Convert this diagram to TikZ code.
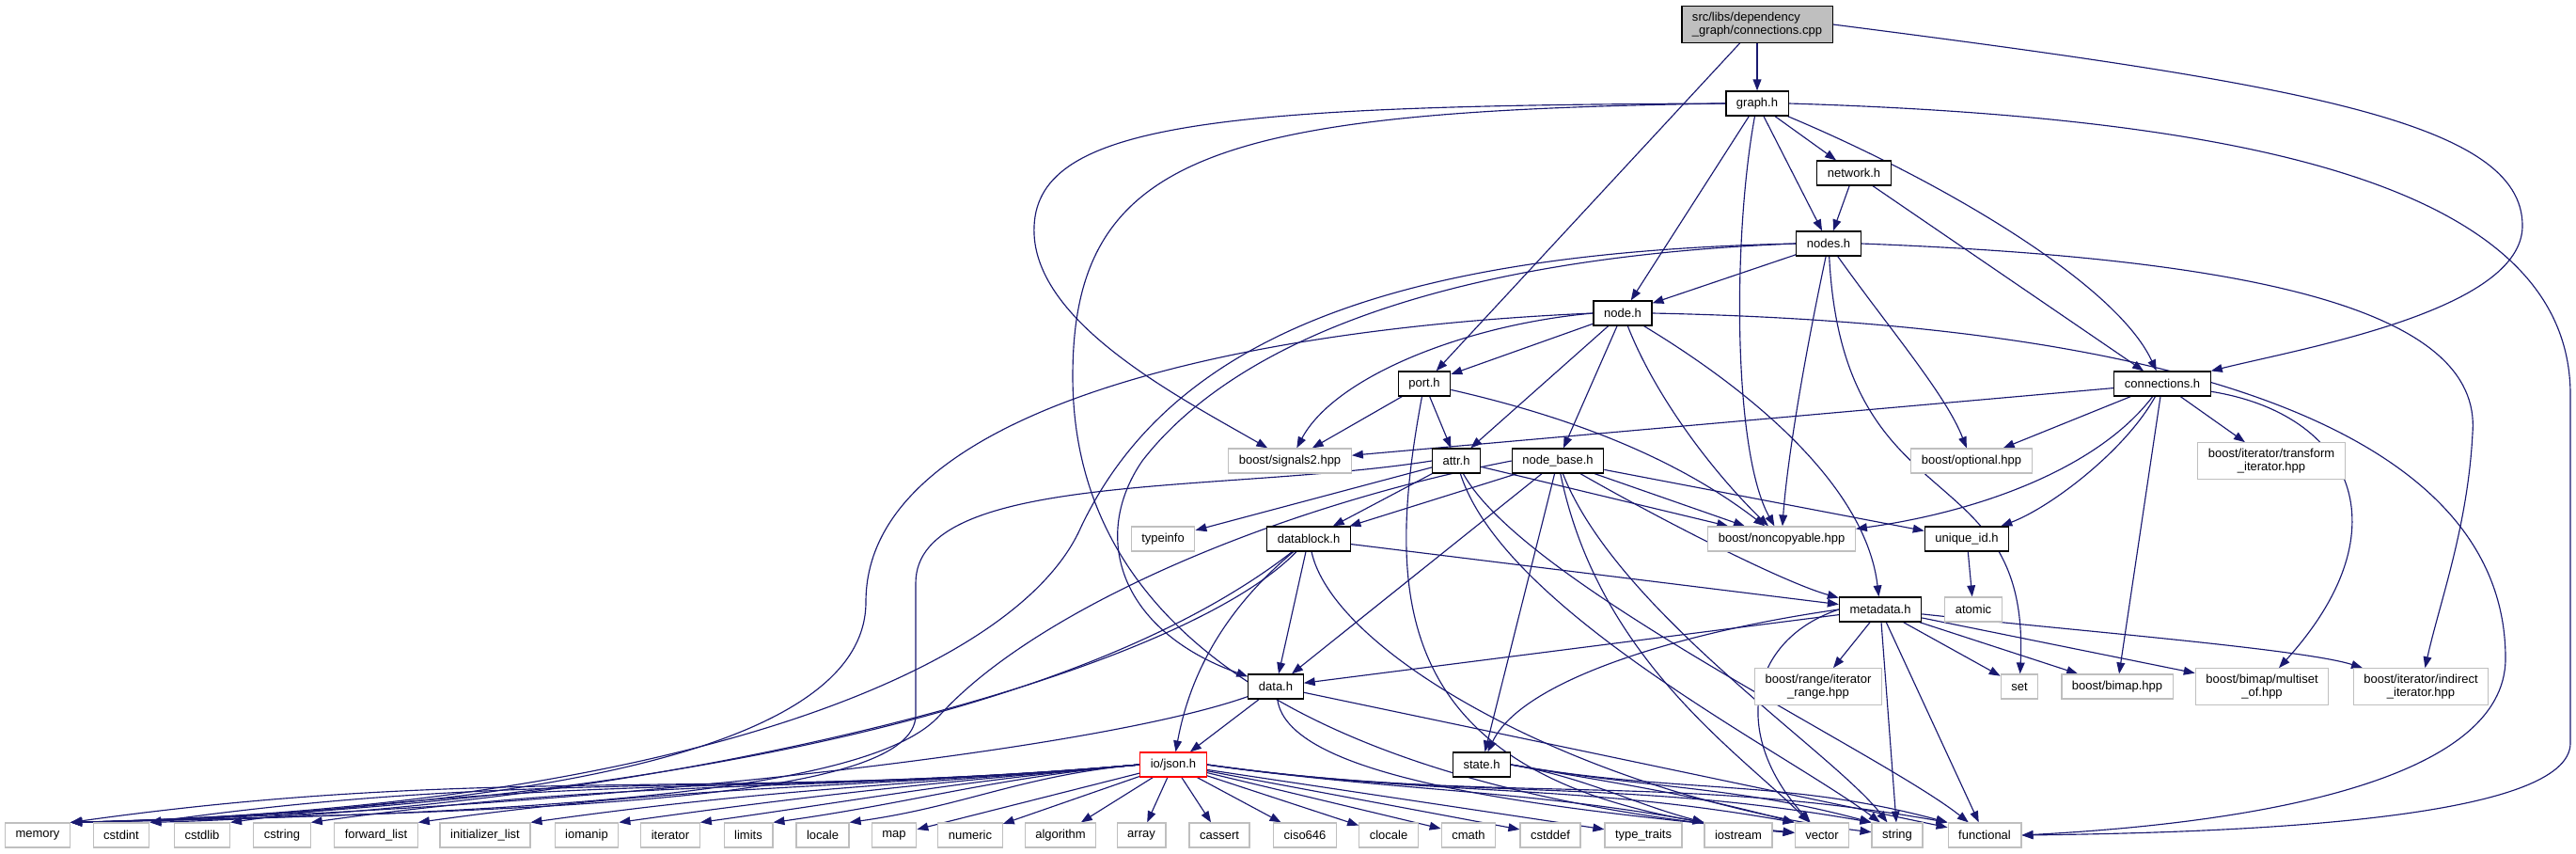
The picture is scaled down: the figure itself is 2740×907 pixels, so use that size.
\documentclass[tikz,border=0pt]{standalone}
\usepackage{fontspec}
\setmainfont{Liberation Sans}
\usepackage{xcolor}
\usepackage{tikz}
\usetikzlibrary{arrows.meta, positioning}
\pgfdeclarelayer{background}
\pgfsetlayers{background,main}
\definecolor{edgeblue}{RGB}{25,25,112}
\definecolor{boxgray}{RGB}{191,191,191}
\newcommand{\gfont}{\fontsize{7.4pt}{8pt}\selectfont}

\begin{document}
\begin{tikzpicture}[
			x=0.02cm, y=0.02cm,
			hdr/.style={rectangle, draw=black, fill=white, line width=0.7pt, inner xsep=6.3pt, inner ysep=3.5pt, minimum height=14.8pt, align=center, font=\gfont},
			syshdr/.style={hdr, draw=boxgray},
			srcfile/.style={hdr, fill=boxgray, align=left},
			badfile/.style={hdr, draw=red},
			dep/.style={draw=edgeblue, line width=0.65pt, -{Triangle[length=6.8pt, width=5pt]}}
			]
			\useasboundingbox (0,0) rectangle (2740,-907);
			
			% --- Project headers (absolute positions, pixel grid) ---
			\node[srcfile] (cpp) at (1869,-26) {src/libs/dependency\\\_graph/connections.cpp};
			\node[hdr] (graph) at (1869,-110) {graph.h};
			\node[hdr] (network) at (1972,-184) {network.h};
			\node[hdr] (nodes) at (1945,-259) {nodes.h};
			\node[hdr] (node) at (1726,-333) {node.h};
			\node[hdr] (port) at (1515,-408) {port.h};
			\node[hdr] (conns) at (2300,-408) {connections.h};
			\node[syshdr] (signals) at (1372,-490) {boost/signals2.hpp};
			\node[hdr] (attr) at (1549,-490) {attr.h};
			\node[hdr] (nbase) at (1657,-490) {node\_base.h};
			\node[syshdr] (optional) at (2097,-490) {boost/optional.hpp};
			\node[syshdr] (transform) at (2416,-490) {boost/iterator/transform\\\_iterator.hpp};
			\node[syshdr] (typeinfo) at (1237,-573) {typeinfo};
			\node[hdr] (dblock) at (1392,-573) {datablock.h};
			\node[syshdr] (noncopy) at (1895,-573) {boost/noncopyable.hpp};
			\node[hdr] (uid) at (2092,-573) {unique\_id.h};
			\node[hdr] (meta) at (2000,-648) {metadata.h};
			\node[syshdr] (atomic) at (2099,-648) {atomic};
			\node[hdr] (data) at (1357,-730) {data.h};
			\node[syshdr] (range) at (1934,-730) {boost/range/iterator\\\_range.hpp};
			\node[syshdr] (set) at (2148,-730) {set};
			\node[syshdr] (bimap) at (2252,-730) {boost/bimap.hpp};
			\node[syshdr] (multiset) at (2406,-730) {boost/bimap/multiset\\\_of.hpp};
			\node[syshdr] (indirect) at (2575,-730) {boost/iterator/indirect\\\_iterator.hpp};
			\node[badfile] (json) at (1248,-813) {io/json.h};
			\node[hdr] (state) at (1576,-813) {state.h};
			
			% --- Standard library row ---
			\node[syshdr] (memory) at (40,-888) {memory};
			\node[syshdr] (cstdint) at (129,-888) {cstdint};
			\node[syshdr] (cstdlib) at (215,-888) {cstdlib};
			\node[syshdr] (cstring) at (300,-888) {cstring};
			\node[syshdr] (fwdlist) at (400,-888) {forward\_list};
			\node[syshdr] (initlist) at (516,-888) {initializer\_list};
			\node[syshdr] (iomanip) at (624,-888) {iomanip};
			\node[syshdr] (iterator) at (713,-888) {iterator};
			\node[syshdr] (limits) at (796,-888) {limits};
			\node[syshdr] (locale) at (875,-888) {locale};
			\node[syshdr] (map) at (951,-888) {map};
			\node[syshdr] (numeric) at (1032,-888) {numeric};
			\node[syshdr] (algorithm) at (1128,-888) {algorithm};
			\node[syshdr] (array) at (1214,-888) {array};
			\node[syshdr] (cassert) at (1297,-888) {cassert};
			\node[syshdr] (ciso) at (1388,-888) {ciso646};
			\node[syshdr] (clocale) at (1477,-888) {clocale};
			\node[syshdr] (cmath) at (1562,-888) {cmath};
			\node[syshdr] (cstddef) at (1649,-888) {cstddef};
			\node[syshdr] (typetraits) at (1748,-888) {type\_traits};
			\node[syshdr] (iostream) at (1849,-888) {iostream};
			\node[syshdr] (vector) at (1938,-888) {vector};
			\node[syshdr] (string) at (2018,-888) {string};
			\node[syshdr] (functional) at (2111,-888) {functional};
			
			\begin{pgfonlayer}{background}
				% --- connections.cpp ---
				\draw[dep] (cpp) -- (graph);
				\draw[dep] (cpp) -- (port);
				\draw[dep] (cpp.east) .. controls (2450,-90) and (2683,-130) .. (2683,-240) .. controls (2683,-330) and (2450,-370) .. (conns.north east);
				
				% --- graph.h ---
				\draw[dep] (graph) -- (network);
				\draw[dep] (graph) -- (nodes);
				\draw[dep] (graph) -- (node);
				\draw[dep] (graph) .. controls (2060,-190) and (2250,-300) .. (conns);
				\draw[dep] (graph) .. controls (1843,-250) and (1843,-480) .. (noncopy);
				\draw[dep] (graph.west) .. controls (1300,-112) and (1105,-130) .. (1100,-240) .. controls (1095,-340) and (1250,-420) .. (signals);
				\draw[dep] (graph.west) .. controls (1300,-118) and (1141,-160) .. (1141,-400) .. controls (1141,-700) and (1450,-845) .. (vector);
				\draw[dep] (graph.east) .. controls (2400,-125) and (2734,-200) .. (2734,-420) -- (2734,-790) .. controls (2734,-870) and (2400,-885) .. (functional.east);
				
				% --- network.h / nodes.h ---
				\draw[dep] (network) -- (nodes);
				\draw[dep] (network) -- (conns);
				\draw[dep] (nodes) -- (node);
				\draw[dep] (nodes) .. controls (1915,-400) and (1900,-500) .. (noncopy);
				\draw[dep] (nodes) .. controls (2010,-350) and (2070,-420) .. (optional);
				\draw[dep] (nodes) .. controls (1960,-560) and (2160,-480) .. (set);
				\draw[dep] (nodes.east) .. controls (2400,-275) and (2640,-330) .. (2630,-460) .. controls (2625,-560) and (2595,-640) .. (indirect);
				\draw[dep] (nodes.west) .. controls (1500,-268) and (1250,-350) .. (1150,-560) .. controls (1080,-720) and (700,-860) .. (memory.north east);
				\draw[dep] (nodes.west) .. controls (1500,-275) and (1300,-380) .. (1215,-490) .. controls (1160,-570) and (1190,-670) .. (data);
				
				% --- node.h ---
				\draw[dep] (node) -- (port);
				\draw[dep] (node) -- (attr);
				\draw[dep] (node) -- (nbase);
				\draw[dep] (node) .. controls (1760,-420) and (1820,-500) .. (noncopy);
				\draw[dep] (node) .. controls (1870,-420) and (1985,-520) .. (meta);
				\draw[dep] (node.west) .. controls (1560,-345) and (1420,-400) .. (signals);
				\draw[dep] (node.west) .. controls (1300,-350) and (921,-440) .. (921,-640) .. controls (921,-790) and (600,-860) .. (memory.north east);
				\draw[dep] (node.east) .. controls (2350,-345) and (2665,-470) .. (2665,-700) .. controls (2665,-830) and (2400,-875) .. (functional.east);
				
				% --- port.h ---
				\draw[dep] (port) -- (signals);
				\draw[dep] (port) -- (attr);
				\draw[dep] (port) .. controls (1700,-450) and (1800,-500) .. (noncopy);
				\draw[dep] (port) .. controls (1470,-650) and (1480,-850) .. (vector);
				
				% --- connections.h ---
				\draw[dep] (conns) -- (signals);
				\draw[dep] (conns) -- (optional);
				\draw[dep] (conns) -- (transform);
				\draw[dep] (conns) -- (bimap);
				\draw[dep] (conns) .. controls (2230,-500) and (2100,-545) .. (noncopy);
				\draw[dep] (conns) .. controls (2260,-480) and (2180,-540) .. (uid);
				\draw[dep] (conns) .. controls (2500,-440) and (2560,-560) .. (multiset);
				
				% --- attr.h ---
				\draw[dep] (attr) -- (typeinfo);
				\draw[dep] (attr) -- (dblock);
				\draw[dep] (attr) -- (noncopy);
				\draw[dep] (attr.west) .. controls (1300,-525) and (974,-500) .. (974,-620) -- (974,-760) .. controls (974,-850) and (600,-862) .. (memory.north east);
				\draw[dep] (attr) .. controls (1600,-650) and (1900,-800) .. (string);
				\draw[dep] (attr) .. controls (1620,-620) and (2000,-800) .. (functional);
				
				% --- node_base.h ---
				\draw[dep] (nbase) -- (dblock);
				\draw[dep] (nbase) -- (data);
				\draw[dep] (nbase) -- (state);
				\draw[dep] (nbase) -- (noncopy);
				\draw[dep] (nbase) -- (uid);
				\draw[dep] (nbase) .. controls (1780,-560) and (1900,-620) .. (meta);
				\draw[dep] (nbase.west) .. controls (1350,-540) and (1100,-650) .. (1000,-760) .. controls (930,-840) and (600,-865) .. (memory.north east);
				\draw[dep] (nbase) .. controls (1700,-700) and (1850,-800) .. (vector);
				\draw[dep] (nbase) .. controls (1720,-650) and (1950,-800) .. (string);
				
				% --- datablock.h / data.h ---
				\draw[dep] (dblock) -- (data);
				\draw[dep] (dblock) -- (meta);
				\draw[dep] (dblock) .. controls (1300,-650) and (1265,-720) .. (json);
				\draw[dep] (dblock) .. controls (1100,-800) and (500,-865) .. (memory.north east);
				\draw[dep] (dblock) .. controls (1250,-720) and (700,-860) .. (cstdint.north east);
				\draw[dep] (dblock) .. controls (1420,-700) and (1700,-850) .. (string);
				\draw[dep] (data) -- (json);
				\draw[dep] (data) .. controls (1160,-800) and (600,-862) .. (memory.north east);
				\draw[dep] (data) .. controls (1370,-830) and (1650,-860) .. (vector);
				\draw[dep] (data) -- (functional);
				
				% --- metadata.h / unique_id.h ---
				\draw[dep] (meta) -- (data);
				\draw[dep] (meta) -- (range);
				\draw[dep] (meta) -- (set);
				\draw[dep] (meta) -- (bimap);
				\draw[dep] (meta) -- (multiset);
				\draw[dep] (meta) .. controls (2200,-670) and (2450,-690) .. (indirect);
				\draw[dep] (meta) -- (string);
				\draw[dep] (meta) -- (functional);
				\draw[dep] (meta.west) .. controls (1800,-670) and (1620,-720) .. (state);
				\draw[dep] (meta.west) .. controls (1860,-680) and (1840,-780) .. (vector);
				\draw[dep] (uid) -- (atomic);
				
				% --- state.h ---
				\draw[dep] (state.east) .. controls +(-10:84) and +(165:84) .. (iostream.north west);
				\draw[dep] (state.east) .. controls +(-10:120) and +(165:120) .. (vector.north west);
				\draw[dep] (state.east) .. controls +(-10:152) and +(165:152) .. (string.north west);
				\draw[dep] (state.east) .. controls +(-10:182) and +(165:182) .. (functional.north west);
				
				% --- io/json.h fan-out ---
				\draw[dep] (json.west) .. controls +(185:445) and +(8:445) .. (memory.north east);
				\draw[dep] (json.west) .. controls +(185:410) and +(8:410) .. (cstdint.north east);
				\draw[dep] (json.west) .. controls +(185:380) and +(8:380) .. (cstdlib.north east);
				\draw[dep] (json.west) .. controls +(185:345) and +(8:345) .. (cstring.north east);
				\draw[dep] (json.west) .. controls +(185:300) and +(8:300) .. (fwdlist.north east);
				\draw[dep] (json.west) .. controls +(185:255) and +(8:255) .. (initlist.north east);
				\draw[dep] (json.west) .. controls +(185:218) and +(8:218) .. (iomanip.north east);
				\draw[dep] (json.west) .. controls +(185:185) and +(8:185) .. (iterator.north east);
				\draw[dep] (json.west) .. controls +(185:154) and +(8:154) .. (limits.north east);
				\draw[dep] (json.west) .. controls +(185:124) and +(8:124) .. (locale.north east);
				\draw[dep] (json) -- (map);
				\draw[dep] (json) -- (numeric);
				\draw[dep] (json) -- (algorithm);
				\draw[dep] (json) -- (array);
				\draw[dep] (json) -- (cassert);
				\draw[dep] (json) -- (ciso);
				\draw[dep] (json) -- (clocale);
				\draw[dep] (json) -- (cmath);
				\draw[dep] (json) -- (cstddef);
				\draw[dep] (json) -- (typetraits);
				\draw[dep] (json.east) .. controls +(-8:208) and +(170:208) .. (iostream.north west);
				\draw[dep] (json.east) .. controls +(-8:245) and +(170:245) .. (vector.north west);
				\draw[dep] (json.east) .. controls +(-8:277) and +(170:277) .. (string.north west);
				\draw[dep] (json.east) .. controls +(-8:308) and +(170:308) .. (functional.north west);
			\end{pgfonlayer}
			
			\end{tikzpicture}
\end{document}
